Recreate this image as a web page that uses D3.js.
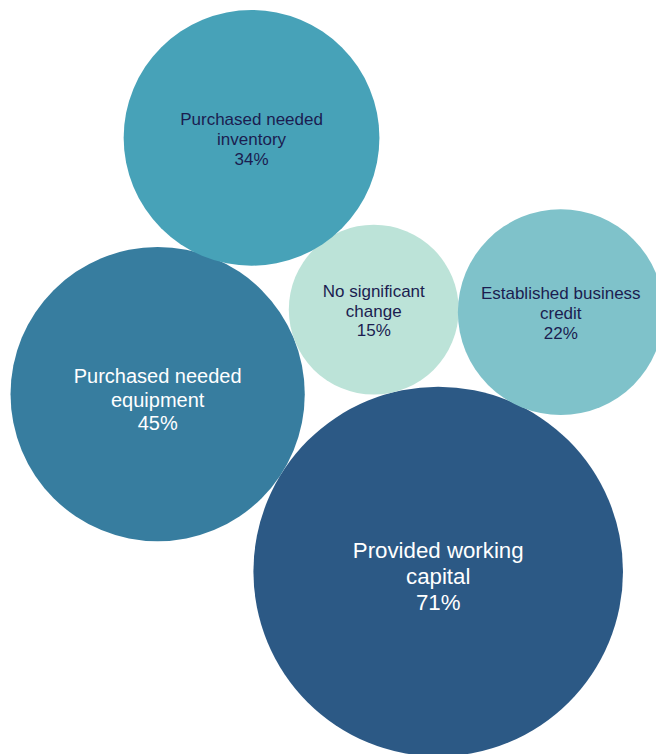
<!DOCTYPE html>
<html>
<head>
<meta charset="utf-8">
<script src="https://cdn.jsdelivr.net/npm/d3@7"></script>
<style>
  html, body { margin: 0; padding: 0; background: #ffffff; }
  svg { display: block; }
</style>
</head>
<body>
<div id="chart"></div>
<script>
// Share of respondents by outcome (percent)
const categories = [
  "Provided working\ncapital",
  "Purchased needed\nequipment",
  "No significant\nchange",
  "Established business\ncredit",
  "Purchased needed\ninventory"
];
const values = [71, 45, 15, 22, 34];

// Fill and label colours per bubble
const fills = ["#2c5985", "#377d9f", "#bce3d8", "#7fc2ca", "#47a2b8"];
const labelColors = ["#ffffff", "#ffffff", "#1b1d50", "#1b1d50", "#1b1d50"];

const width = 656, height = 754;

const svg = d3.select("#chart").append("svg")
  .attr("width", width)
  .attr("height", height);

// Bubble area proportional to value
const r = d3.scaleSqrt().domain([0, d3.max(values)]).range([0, 184.8]);
const fontSize = d3.scaleLinear().domain([128, 147, 185]).range([17, 20, 22.3]).clamp(true);
const labelShift = d3.scaleLinear().domain([17, 20, 22.3]).range([0.8, 5.5, 4.5]).clamp(true);

const nodes = values.map((v, i) => ({
  label: categories[i], value: v, r: r(v), fill: fills[i], color: labelColors[i]
}));

// Circle externally tangent to circles a and b; pick chooses between the two solutions
function tangentTo(a, b, rad, pick) {
  const da = a.r + rad, db = b.r + rad;
  const dx = b.x - a.x, dy = b.y - a.y;
  const d = Math.hypot(dx, dy);
  const along = (da * da - db * db + d * d) / (2 * d);
  const h = Math.sqrt(Math.max(0, da * da - along * along));
  const px = a.x + along * dx / d, py = a.y + along * dy / d;
  const s1 = { x: px - h * dy / d, y: py + h * dx / d };
  const s2 = { x: px + h * dy / d, y: py - h * dx / d };
  return pick(s1, s2);
}

// Packed layout: largest bubble anchored, the rest placed touching their neighbours
const [cap, equip, nochg, credit, inv] = nodes;
cap.x = width * 0.668; cap.y = height * 0.758;
const ang = 212.3 * Math.PI / 180;
equip.x = cap.x + (cap.r + equip.r) * Math.cos(ang);
equip.y = cap.y + (cap.r + equip.r) * Math.sin(ang);
const upper = (p, q) => (p.y < q.y ? p : q);
const righter = (p, q) => (p.x > q.x ? p : q);
Object.assign(nochg, tangentTo(cap, equip, nochg.r, upper));
Object.assign(credit, tangentTo(cap, nochg, credit.r - 0.8, righter));
Object.assign(inv, tangentTo(equip, nochg, inv.r - 2, upper));

const g = svg.selectAll("g.bubble")
  .data(nodes)
  .join("g")
  .attr("class", "bubble")
  .attr("transform", d => `translate(${d.x},${d.y})`);

g.append("circle")
  .attr("r", d => d.r)
  .attr("fill", d => d.fill);

g.each(function(d) {
  const lines = d.label.split("\n").concat([d.value + "%"]);
  const fs = fontSize(d.r);
  const lh = fs * 1.17;
  const text = d3.select(this).append("text")
    .attr("text-anchor", "middle")
    .attr("font-family", "'Liberation Sans', Arial, Helvetica, sans-serif")
    .attr("font-size", fs)
    .attr("fill", d.color);
  lines.forEach((line, i) => {
    text.append("tspan")
      .attr("x", 0)
      .attr("y", (i - (lines.length - 1) / 2) * lh + fs * 0.36 + labelShift(fs))
      .text(line);
  });
});
</script>
</body>
</html>
